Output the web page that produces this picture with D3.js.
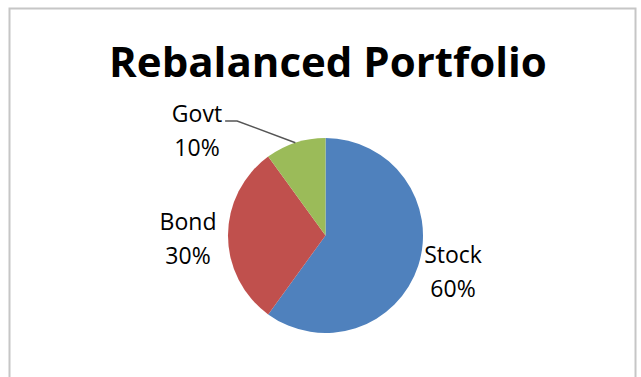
<!DOCTYPE html>
<html>
<head>
<meta charset="utf-8">
<script src="https://cdn.jsdelivr.net/npm/d3@7"></script>
<style>
  html, body { margin: 0; padding: 0; background: #ffffff; }
  svg { display: block; }
</style>
</head>
<body>
<svg id="chart" width="641" height="377"></svg>
<script>
const categories = ["Stock", "Bond", "Govt"];
const values = [60, 30, 10];
const percentLabels = ["60%", "30%", "10%"];
const colors = ["#4f81bd", "#c0504d", "#9bbb59"];
const title = "Rebalanced Portfolio";

const svg = d3.select("#chart");
const font = "'Open Sans', Lato, 'Liberation Sans', sans-serif";

// chart frame
svg.append("rect")
  .attr("x", 9.5).attr("y", 8.5)
  .attr("width", 626).attr("height", 380)
  .attr("fill", "#ffffff")
  .attr("stroke", "#c6c6c6")
  .attr("stroke-width", 2);

// title
svg.append("text")
  .attr("x", 328).attr("y", 77)
  .attr("text-anchor", "middle")
  .attr("font-family", font)
  .attr("font-weight", "bold")
  .attr("font-size", 42)
  .attr("fill", "#000")
  .text(title);

const cx = 325.5, cy = 235.5, r = 97.5;
const data = categories.map((c, i) => ({ name: c, value: values[i], pct: percentLabels[i], color: colors[i] }));

const pie = d3.pie().sort(null).value(d => d.value).startAngle(0).endAngle(2 * Math.PI);
const arc = d3.arc().innerRadius(0).outerRadius(r);
const arcs = pie(data);

const g = svg.append("g").attr("transform", `translate(${cx},${cy})`);
g.selectAll("path").data(arcs).enter().append("path")
  .attr("d", arc)
  .attr("fill", d => d.data.color);

// label positions (relative to the pie centre, in units of radius)
const labelPos = {
  Stock: { dx: 1.308, dy: 0.282 },
  Bond:  { dx: -1.41, dy: -0.056 },
  Govt:  { dx: -1.318, dy: -1.164 }
};
const lineGap = 34;

const labels = svg.append("g");
const govtText = {};
arcs.forEach(a => {
  const p = labelPos[a.data.name];
  const x = cx + p.dx * r, y = cy + p.dy * r;
  const t = labels.append("text")
    .attr("text-anchor", "middle")
    .attr("font-family", font)
    .attr("font-size", 23)
    .attr("fill", "#000");
  const s1 = t.append("tspan").attr("x", x).attr("y", y).text(a.data.name);
  t.append("tspan").attr("x", x).attr("y", y + lineGap).text(a.data.pct);
  if (a.data.name === "Govt") {
    govtText.x = x; govtText.y = y; govtText.w = s1.node().getComputedTextLength();
  }
});

// leader line for Govt
const govt = arcs[2];
const midA = (govt.startAngle + govt.endAngle) / 2;
const edge = [cx + Math.sin(midA) * r, cy - Math.cos(midA) * r];
const lx = govtText.x + govtText.w / 2 + 3, ly = govtText.y - 1;
svg.append("path")
  .attr("d", d3.line()([[lx, ly], [lx + 12, ly], edge]))
  .attr("fill", "none")
  .attr("stroke", "#555")
  .attr("stroke-width", 1.5);
</script>
</body>
</html>
